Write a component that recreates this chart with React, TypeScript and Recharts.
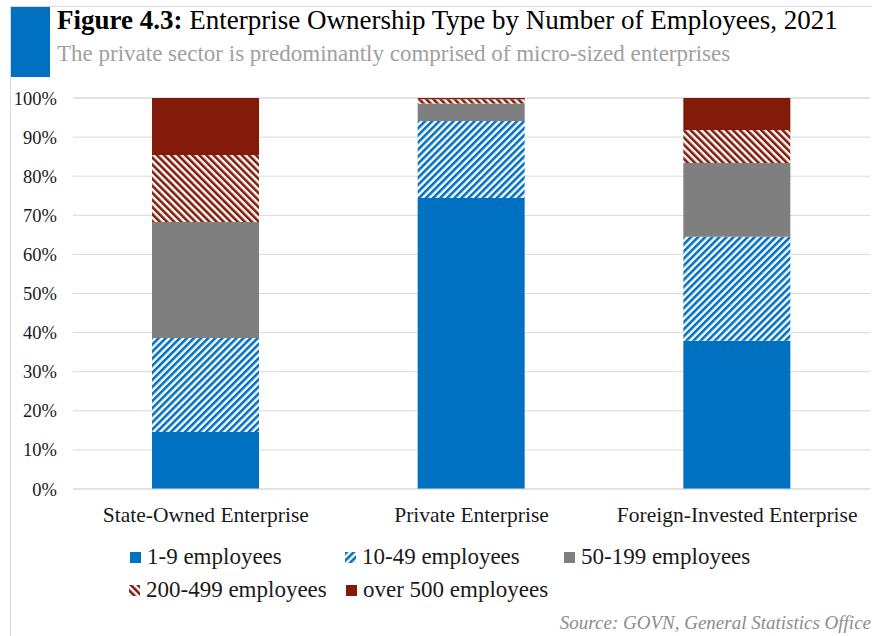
import React from "react"
import { BarChart, Bar, XAxis, YAxis, CartesianGrid } from "recharts"

const categories = ["State-Owned Enterprise", "Private Enterprise", "Foreign-Invested Enterprise"]
const emp1to9 = [14.6, 74.4, 37.9]
const emp10to49 = [24.0, 19.7, 26.6]
const emp50to199 = [29.7, 4.5, 18.9]
const emp200to499 = [17.1, 1.1, 8.4]
const empOver500 = [14.6, 0.3, 8.2]
const yTicks = [0, 10, 20, 30, 40, 50, 60, 70, 80, 90, 100]

const series = [
  { key: "a", name: "1-9 employees", fill: "#0070C0", values: emp1to9 },
  { key: "b", name: "10-49 employees", fill: "url(#blueHatch)", values: emp10to49 },
  { key: "c", name: "50-199 employees", fill: "#7F7F7F", values: emp50to199 },
  { key: "d", name: "200-499 employees", fill: "url(#redHatch)", values: emp200to499 },
  { key: "e", name: "over 500 employees", fill: "#821B0A", values: empOver500 },
]

const data = categories.map((name, i) => {
  const row: any = { name }
  series.forEach((s) => {
    row[s.key] = s.values[i]
  })
  return row
})

const serif = "'Liberation Serif', 'Times New Roman', serif"

function Patterns() {
  return (
    <defs>
      <pattern id="blueHatch" width="5" height="5" patternUnits="userSpaceOnUse" patternTransform="rotate(45)">
        <rect width="5" height="5" fill="#fff" />
        <rect width="2.6" height="5" fill="#0070C0" />
      </pattern>
      <pattern id="redHatch" width="5" height="5" patternUnits="userSpaceOnUse" patternTransform="rotate(-45)">
        <rect width="5" height="5" fill="#fff" />
        <rect width="2.6" height="5" fill="#821B0A" />
      </pattern>
    </defs>
  )
}

function LegendItem({ s, x, y }: { s: any; x: number; y: number }) {
  return (
    <div style={{ position: "absolute", left: x, top: y, display: "flex", alignItems: "center", whiteSpace: "nowrap" }}>
      <svg width={11} height={11} style={{ marginRight: 6 }}>
        <Patterns />
        <rect width={11} height={11} fill={s.fill} />
      </svg>
      <span style={{ fontFamily: serif, fontSize: 23, color: "#1a1a1a" }}>{s.name}</span>
    </div>
  )
}

export default function App() {
  return (
    <div style={{ position: "absolute", left: 0, top: 0, width: 872, height: 636, background: "#fff", overflow: "hidden" }}>
      <div style={{ position: "absolute", left: 10, top: 6, width: 862, height: 1, background: "#d9d9d9" }} />
      <div style={{ position: "absolute", left: 10, top: 6, width: 1, height: 630, background: "#d9d9d9" }} />
      <div style={{ position: "absolute", left: 11, top: 7, width: 39, height: 70, background: "#0070C0" }} />
      <div style={{ position: "absolute", left: 57, top: 5, fontFamily: serif, fontSize: 27, color: "#000", whiteSpace: "nowrap" }}>
        <b>Figure 4.3:</b> Enterprise Ownership Type by Number of Employees, 2021
      </div>
      <div style={{ position: "absolute", left: 57, top: 41, fontFamily: serif, fontSize: 23, color: "#a0a0a0", whiteSpace: "nowrap" }}>
        The private sector is predominantly comprised of micro-sized enterprises
      </div>
      <div style={{ position: "absolute", left: 0, top: 0 }}>
        <BarChart width={872} height={540} data={data} margin={{ top: 98, right: 2, bottom: 0, left: 0 }}>
          <Patterns />
          <CartesianGrid vertical={false} stroke="#d9d9d9" />
          <XAxis
            dataKey="name"
            axisLine={{ stroke: "#d9d9d9" }}
            tickLine={false}
            height={51}
            tickMargin={12}
            tick={{ fontFamily: serif, fontSize: 21.5, fill: "#1a1a1a" }}
          />
          <YAxis
            width={73}
            domain={[0, 100]}
            ticks={yTicks}
            tickFormatter={(v) => `${v}%`}
            axisLine={false}
            tickLine={false}
            tickMargin={10}
            tick={{ fontFamily: serif, fontSize: 18.5, fill: "#1a1a1a" }}
          />
          {series.map((s) => (
            <Bar key={s.key} dataKey={s.key} name={s.name} stackId="1" fill={s.fill} barSize={107} isAnimationActive={false} />
          ))}
        </BarChart>
      </div>
      <LegendItem s={series[0]} x={130} y={544} />
      <LegendItem s={series[1]} x={345} y={544} />
      <LegendItem s={series[2]} x={564} y={544} />
      <LegendItem s={series[3]} x={129} y={577} />
      <LegendItem s={series[4]} x={346} y={577} />
      <div style={{ position: "absolute", right: 1, top: 612, fontFamily: serif, fontStyle: "italic", fontSize: 19, color: "#8c8c8c", whiteSpace: "nowrap" }}>
        Source: GOVN, General Statistics Office
      </div>
    </div>
  )
}
